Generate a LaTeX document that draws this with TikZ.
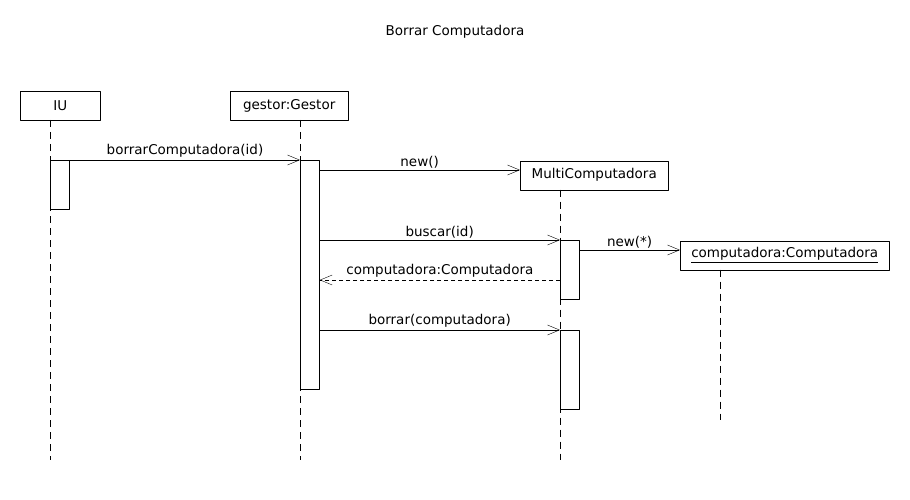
\documentclass[tikz,border=0pt]{standalone}
\usepackage{fontspec}
\setmainfont{DejaVu Sans}
\usetikzlibrary{arrows.meta}
\begin{document}
\begin{tikzpicture}[x=1pt, y=-1pt, font=\fontsize{13.5}{16}\selectfont, line join=round,
    obj/.style={draw, fill=white, minimum height=29, inner sep=0pt, anchor=north west},
    act/.style={draw, fill=white, minimum width=19.3, inner sep=0pt, anchor=north west},
    life/.style={dash pattern=on 7pt off 5pt},
    msg/.style={-{Straight Barb[length=12pt,width=10pt]}},
    ret/.style={msg, dash pattern=on 4pt off 3pt},
    lbl/.style={above, inner sep=2pt}]
  \useasboundingbox (0,0) rectangle (910,500);
  \node (title) at (455,32) {Borrar Computadora};
  % objetos y lineas de vida
  \node[obj, minimum width=80] (iu) at (20,91) {IU};
  \node[obj, minimum width=118] (gestor) at (230,91) {gestor:Gestor};
  \node[obj, minimum width=148] (multi) at (520,160.5) {MultiComputadora};
  \node[obj, minimum width=209] (comp) at (680,240.5) {\underline{computadora:Computadora}};
  \coordinate (iuL) at (50,120);
  \coordinate (gestorL) at (300,120);
  \coordinate (multiL) at (560,189.5);
  \coordinate (compL) at (720,269.5);
  \draw[life] (iuL) -- ++(0,340);
  \draw[life] (gestorL) -- ++(0,340);
  \draw[life] (multiL) -- ++(0,270.5);
  \draw[life] (compL) -- ++(0,150.5);
  % activaciones
  \node[act, minimum height=49] (iuA) at (50,160) {};
  \node[act, minimum height=229] (gestorA) at (300,160) {};
  \node[act, minimum height=59] (multiA) at (560,240) {};
  \node[act, minimum height=79] (multiB) at (560,330) {};
  % mensajes
  \draw[msg] (iuA.north west) -- node[lbl, pos=0.54] {borrarComputadora(id)} (gestorA.north west);
  \coordinate (m1) at (319.3,170);
  \draw[msg] (m1) -- node[lbl] {new()} (multi.west |- m1);
  \coordinate (m2) at (319.3,240);
  \draw[msg] (m2) -- node[lbl] {buscar(id)} (multiA.north west);
  \coordinate (m3) at (579.3,250);
  \draw[msg] (m3) -- node[lbl] {new(*)} (comp.west |- m3);
  \coordinate (m4) at (560,280);
  \draw[ret] (m4) -- node[lbl] {computadora:Computadora} (gestorA.east |- m4);
  \coordinate (m5) at (319.3,330);
  \draw[msg] (m5) -- node[lbl] {borrar(computadora)} (multiB.north west);
\end{tikzpicture}
\end{document}
